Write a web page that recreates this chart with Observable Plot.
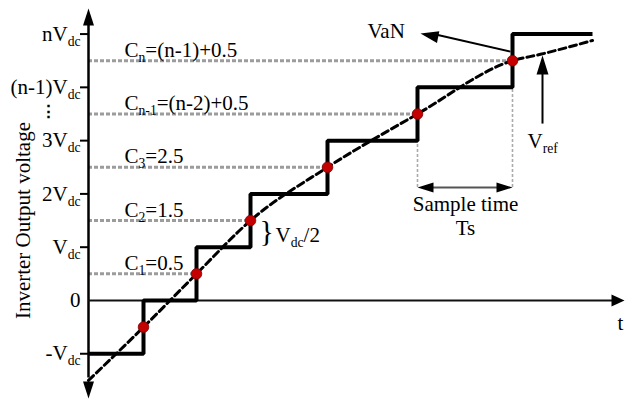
<!DOCTYPE html>
<html>
<head>
<meta charset="utf-8">
<script src="https://cdn.jsdelivr.net/npm/d3@7"></script>
<script src="https://cdn.jsdelivr.net/npm/@observablehq/plot@0.6"></script>
<style>
  body { margin: 0; background: #fff; }
  svg text { font-family: "Liberation Serif", "Times New Roman", serif; }
</style>
</head>
<body>
<div id="chart"></div>
<script>
// Voltage levels (in units of Vdc) and their axis labels
const levels = [-1, 0, 1, 2, 3, 4, 5];
const levelLabels = ["-V_{dc}", "0", "V_{dc}", "2V_{dc}", "3V_{dc}", "(n-1)V_{dc}", "nV_{dc}"];

// Staircase output VaN: switching instants and the level held after each
const stepTimes = [0, 5.5, 10.8, 16.2, 23.9, 32.9, 42.4, 50.4];
const stepLevels = [-1, 0, 1, 2, 3, 4, 5, 5];

// Reference waveform Vref
const refTimes = [0, 5.5, 10.8, 16.2, 23.9, 32.9, 42.4, 45.2, 50.4];
const refLevels = [-1.5, -0.5, 0.5, 1.5, 2.5, 3.5, 4.5, 4.62, 4.88];

// Comparison levels C_k, the instants where Vref crosses them, and their labels
const compLevels = [-0.5, 0.5, 1.5, 2.5, 3.5, 4.5];
const compTimes = [5.5, 10.8, 16.2, 23.9, 32.9, 42.4];
const compLabels = [null, "C_{1}=0.5", "C_{2}=1.5", "C_{3}=2.5", "C_{n-1}=(n-2)+0.5", "C_{n}=(n-1)+0.5"];

// ---- tables built from the arrays above ----
const stairs = stepTimes.map((t, i) => ({t, v: stepLevels[i]}));
const ref = refTimes.map((t, i) => ({t, v: refLevels[i]}));
const comps = compLevels.map((v, i) => ({v, t: compTimes[i], label: compLabels[i]}));
const labelled = comps.filter(d => d.label);
const ticks = levels.map((v, i) => ({v, label: levelLabels[i]}));

// sample period shown between the last two crossings
const tA = compTimes[compTimes.length - 2];
const tB = compTimes[compTimes.length - 1];
const guides = [tA, tB].map(t => ({t, top: stepLevels[stepTimes.indexOf(t) - 1]}));

// ---- layout ----
const W = 625, H = 406;
const xDomain = [-8.8, 53.7];
const yDomain = [-1.99, 5.63];
const yTop = 5.48, yBottom = -1.84, xEnd = 53.6, sampleLevel = 2.12;

// filled arrowhead symbol: tip at the dot's position, pointing along `angle` (degrees, screen space)
function head(angle, len, wid) {
  const a = angle * Math.PI / 180, c = Math.cos(a), s = Math.sin(a);
  const pts = [[0, 0], [-len, -wid / 2], [-len, wid / 2]].map(([x, y]) => [x * c - y * s, x * s + y * c]);
  return {draw(ctx) { ctx.moveTo(...pts[0]); ctx.lineTo(...pts[1]); ctx.lineTo(...pts[2]); ctx.closePath(); }};
}

const heads = [
  {t: 0, v: yTop, angle: -90, len: 17, wid: 11},
  {t: 0, v: yBottom, angle: 90, len: 17, wid: 11},
  {t: xEnd, v: 0, angle: 0, len: 13, wid: 12},
  {t: tA, v: sampleLevel, angle: 180, len: 16, wid: 10},
  {t: tB, v: sampleLevel, angle: 0, len: 16, wid: 10},
  {t: 45.4, v: 4.6, angle: -90, len: 19, wid: 12},
  {t: 33.2, v: 5.01, angle: 191.3, len: 18, wid: 12}
];

const pointers = [
  {x1: 42.2, y1: 4.67, x2: 34.5, y2: 5.0},   // to VaN label
  {x1: 45.4, y1: 3.32, x2: 45.4, y2: 4.4}    // to Vref label
];

const notes = [
  {t: 27.9, v: 4.93, text: "VaN", anchor: "start", size: 21},
  {t: 43.9, v: 2.87, text: "V_{ref}", anchor: "start", size: 21},
  {t: 37.7, v: 1.67, text: "Sample time", anchor: "middle", size: 21},
  {t: 37.7, v: 1.23, text: "Ts", anchor: "middle", size: 21},
  {t: 18.7, v: 1.09, text: "V_{dc}/2", anchor: "start", size: 21},
  {t: 17.1, v: 1.12, text: "}", anchor: "start", size: 30},
  {t: 53.2, v: -0.56, text: "t", anchor: "middle", size: 21}
];

const plot = Plot.plot({
  width: W,
  height: H,
  margin: 0,
  x: {domain: xDomain, axis: null},
  y: {domain: yDomain, axis: null},
  style: {background: "#fff", overflow: "visible"},
  marks: [
    // comparison levels
    Plot.ruleY(labelled, {y: "v", x1: 0, x2: "t", stroke: "#9c9c9c", strokeWidth: 3, strokeDasharray: "4,2"}),
    // sample period guides
    Plot.ruleX(guides, {x: "t", y1: sampleLevel, y2: "top", stroke: "#aaa", strokeWidth: 1.6, strokeDasharray: "3,2"}),
    Plot.ruleY([sampleLevel], {x1: tA + 1.2, x2: tB - 1.2, stroke: "#555", strokeWidth: 2}),
    // axes
    Plot.ruleX([0], {y1: yBottom + 1.2 * 17 / 53.3, y2: yTop - 17 / 53.3, stroke: "black", strokeWidth: 2.5}),
    Plot.ruleY([0], {x1: 0, x2: xEnd - 1, stroke: "#111", strokeWidth: 2}),
    Plot.ruleY(ticks.filter(d => d.v !== 0), {y: "v", x1: -0.8, x2: 0, stroke: "black", strokeWidth: 2}),
    // staircase output and reference
    Plot.line(stairs, {x: "t", y: "v", curve: "step-after", stroke: "black", strokeWidth: 4, strokeLinejoin: "miter", strokeLinecap: "butt"}),
    Plot.line(ref, {x: "t", y: "v", curve: "monotone-x", stroke: "black", strokeWidth: 3, strokeDasharray: "7,4"}),
    Plot.dot(comps, {x: "t", y: "v", r: 5.3, fill: "#c40000", stroke: "#800000", strokeWidth: 0.8}),
    // pointers
    Plot.link(pointers, {x1: "x1", y1: "y1", x2: "x2", y2: "y2", stroke: "black", strokeWidth: 2}),
    ...heads.map(h => Plot.dot([h], {x: "t", y: "v", symbol: head(h.angle, h.len, h.wid), fill: "black", stroke: "none"})),
    // axis labels
    Plot.text(ticks, {x: () => 0, y: "v", text: "label", textAnchor: "end", dx: -8, fontSize: 21}),
    Plot.text(["⋮"], {x: () => -4, y: () => 3.55, text: d => d, fontSize: 17, fontWeight: "bold"}),
    Plot.text(["Inverter Output voltage"], {x: () => -6.5, y: () => 1.5, text: d => d, rotate: -90, fontSize: 21}),
    // comparison level labels
    Plot.text(labelled, {x: () => 3.6, y: "v", text: "label", textAnchor: "start", lineAnchor: "bottom", dy: -4, fontSize: 21}),
    // annotations
    ...notes.map(n => Plot.text([n], {x: "t", y: "v", text: "text", textAnchor: n.anchor, lineAnchor: "bottom", fontSize: n.size}))
  ]
});

// render "_{...}" as subscripts
plot.querySelectorAll("text").forEach(el => {
  const s = el.textContent;
  if (!s.includes("_{")) return;
  el.textContent = "";
  const re = /_\{([^}]*)\}/g;
  let last = 0, m, shifted = false;
  const add = (str, sub) => {
    if (!str) return;
    const ts = document.createElementNS("http://www.w3.org/2000/svg", "tspan");
    ts.textContent = str;
    if (sub) { ts.setAttribute("font-size", "0.65em"); ts.setAttribute("dy", "5"); shifted = true; }
    else if (shifted) { ts.setAttribute("dy", "-5"); shifted = false; }
    el.appendChild(ts);
  };
  while ((m = re.exec(s))) {
    add(s.slice(last, m.index), false);
    add(m[1], true);
    last = re.lastIndex;
  }
  add(s.slice(last), false);
});

document.getElementById("chart").appendChild(plot);
</script>
</body>
</html>
